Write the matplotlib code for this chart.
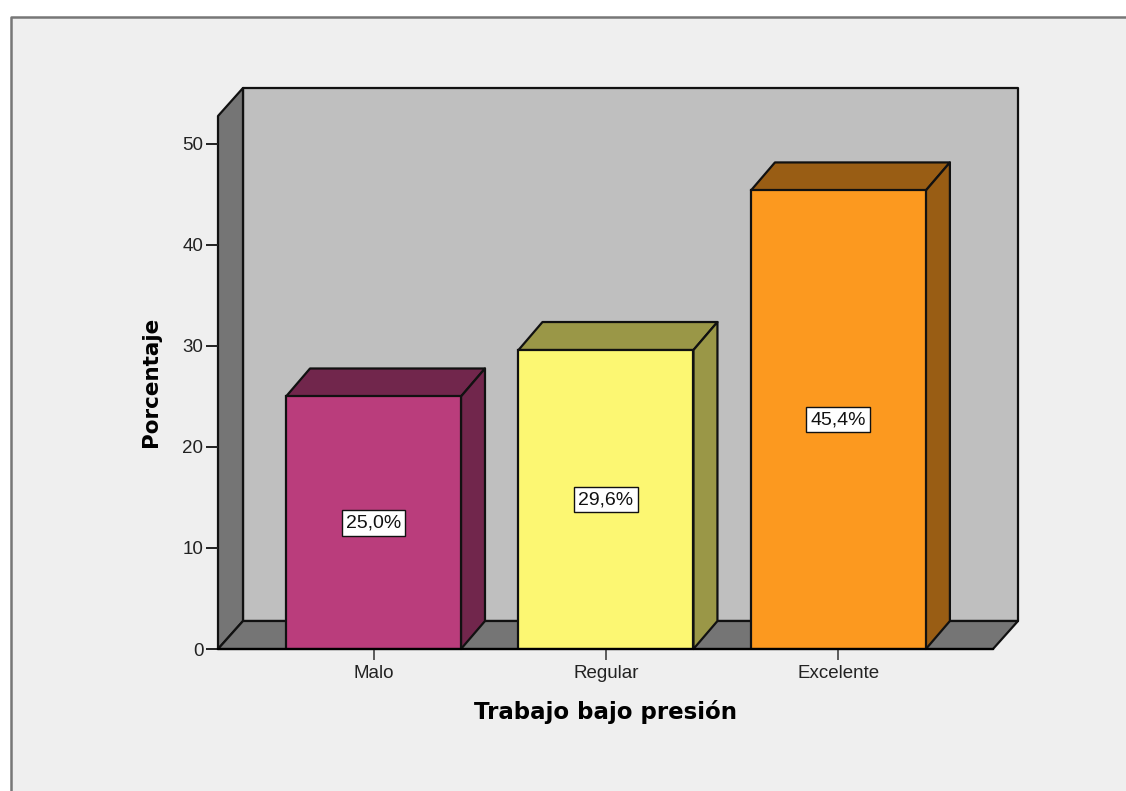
import matplotlib.pyplot as plt
from matplotlib.patches import Polygon, Rectangle

# Data
categories = ['Malo', 'Regular', 'Excelente']
percentages = [25.0, 29.6, 45.4]
value_labels = ['25,0%', '29,6%', '45,4%']
front_colors = ['#BA3D7C', '#FCF772', '#FC991F']
dark_colors = ['#71264C', '#9A9747', '#995D14']

W, H = 1126, 791
plt.rcParams['font.family'] = ['Liberation Sans', 'DejaVu Sans']

fig = plt.figure(figsize=(W / 100, H / 100), dpi=100, facecolor='white')

# Grey panel with a frame on the top and left sides, kept behind the axes
fig.add_artist(Rectangle((11 / W, 0), 1 - 11 / W, 1 - 17 / H, transform=fig.transFigure,
                         facecolor='#EFEFEF', edgecolor='none', zorder=-2))
fig.add_artist(plt.Line2D([11 / W, 11 / W, 1], [0, 1 - 17 / H, 1 - 17 / H],
                          transform=fig.transFigure, color='#777777', lw=1.8, zorder=-1))

# Axes box is the front plane of the 3D frame
ax = fig.add_axes([218 / W, 1 - 649 / H, (993 - 218) / W, (649 - 116) / H])
ax.patch.set_visible(False)
ax.set_xlim(-0.669, 2.665)
ax.set_ylim(0, 52.77)

# Depth of the fake 3D extrusion in data units
dx = 25 / 232.5
dy = 28 / 10.1
bar_dx = 24 / 232.5
bar_width = 175 / 232.5
x0, x1 = ax.get_xlim()
y0, y1 = ax.get_ylim()
line_w = 1.6


def face(points, color, z=1):
    ax.add_patch(Polygon(points, closed=True, facecolor=color, edgecolor='#111111',
                         lw=line_w, joinstyle='round', clip_on=False, zorder=z))


# Back wall, side wall, floor
face([(x0 + dx, y0 + dy), (x1 + dx, y0 + dy), (x1 + dx, y1 + dy), (x0 + dx, y1 + dy)], '#BFBFBF')
face([(x0, y0), (x0 + dx, y0 + dy), (x0 + dx, y1 + dy), (x0, y1)], '#757575')
face([(x0, y0), (x1, y0), (x1 + dx, y0 + dy), (x0 + dx, y0 + dy)], '#757575')

# Bars
for i, val in enumerate(percentages):
    left = i - bar_width / 2
    right = i + bar_width / 2
    ax.bar(i, val, width=bar_width, color=front_colors[i], edgecolor='#111111',
           linewidth=line_w, zorder=3)
    face([(left, val), (right, val), (right + bar_dx, val + dy), (left + bar_dx, val + dy)],
         dark_colors[i], z=2)
    face([(right, 0), (right + bar_dx, dy), (right + bar_dx, val + dy), (right, val)],
         dark_colors[i], z=2)
    ax.text(i, val / 2, value_labels[i], ha='center', va='center', fontsize=14,
            color='#111111', zorder=5,
            bbox=dict(boxstyle='square,pad=0.22', facecolor='white', edgecolor='#111111', lw=1.0))

for side in ['top', 'right']:
    ax.spines[side].set_visible(False)
ax.spines['left'].set_visible(False)
ax.spines['bottom'].set_linewidth(line_w)
ax.spines['bottom'].set_zorder(4)

ax.set_yticks([0, 10, 20, 30, 40, 50])
ax.set_xticks(range(len(categories)))
ax.set_xticklabels(categories)
ax.tick_params(axis='y', length=9, width=1.4, labelsize=13.5, pad=1.5, color='#222222', labelcolor='#222222')
ax.tick_params(axis='x', length=8, width=1.1, labelsize=13.5, pad=3.5, color='#333333', labelcolor='#222222')

ax.set_xlabel('Trabajo bajo presión', fontsize=16.5, fontweight='bold', family='DejaVu Sans')
ax.set_ylabel('Porcentaje', fontsize=15.5, fontweight='bold', family='DejaVu Sans')
ax.xaxis.set_label_coords((606 - 218) / (993 - 218), -(712 - 649) / (649 - 116), transform=ax.transAxes)
ax.yaxis.set_label_coords((151 - 218) / (993 - 218), (649 - 382) / (649 - 116), transform=ax.transAxes)
ax.xaxis.label.set_va('center')
ax.yaxis.label.set_va('center')

fig.savefig('out.png', dpi=100, facecolor=fig.get_facecolor())
